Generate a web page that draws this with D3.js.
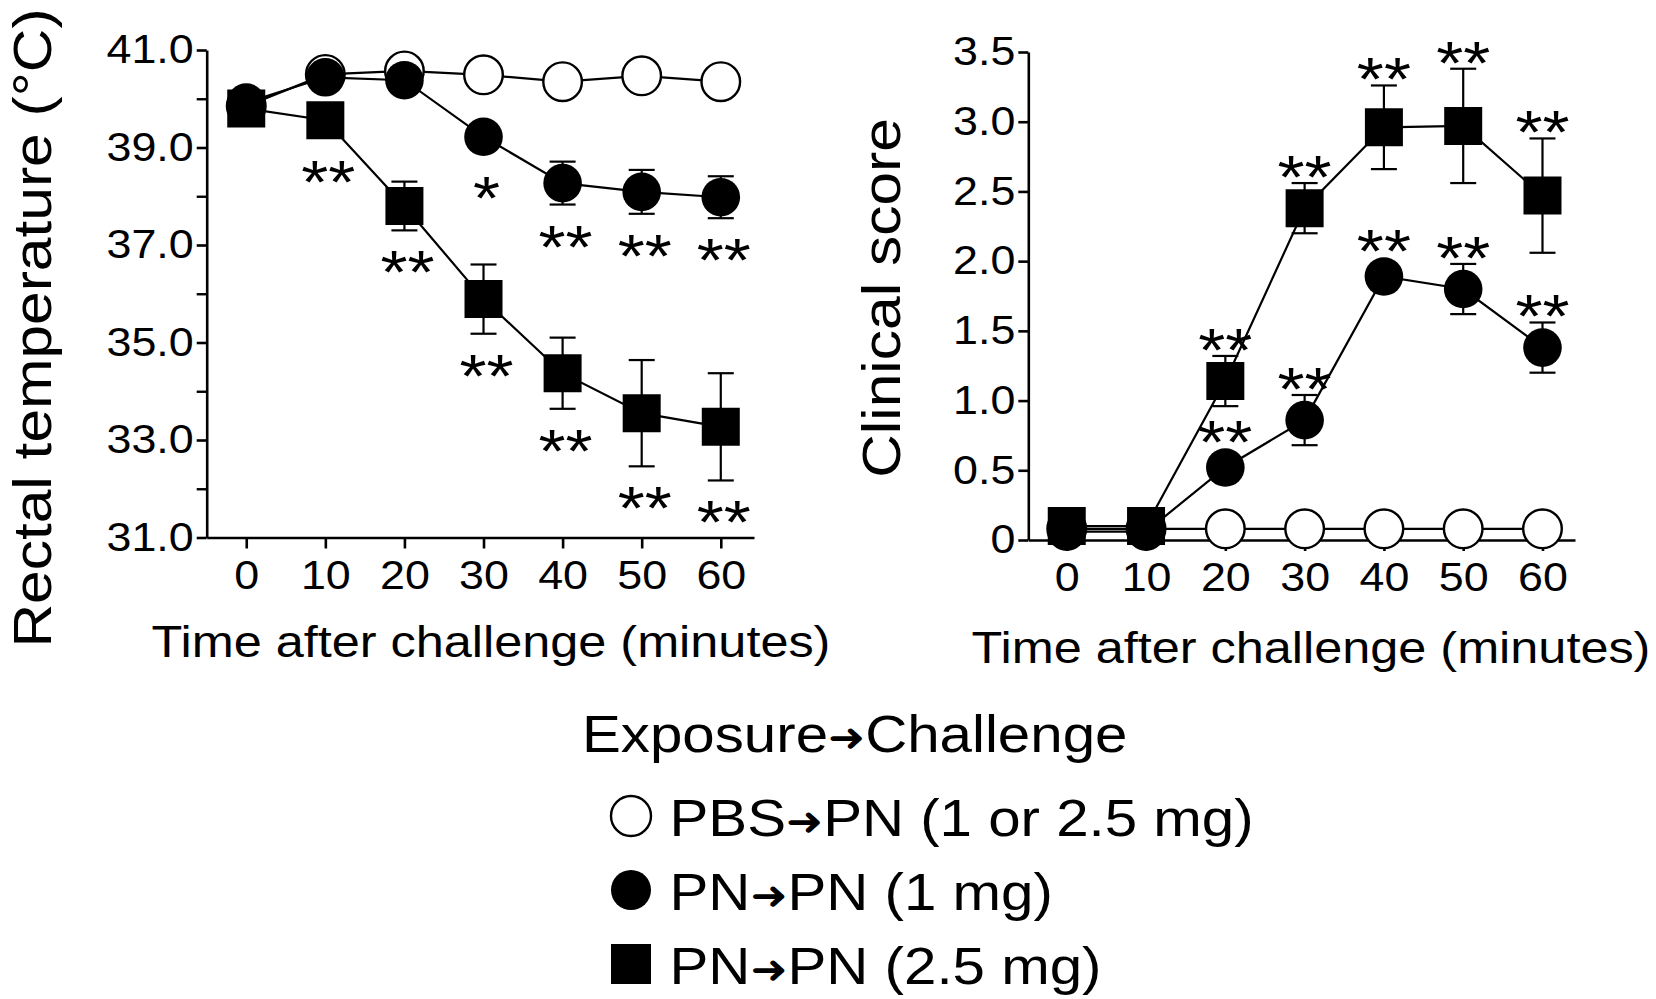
<!DOCTYPE html>
<html>
<head>
<meta charset="utf-8">
<script src="https://cdn.jsdelivr.net/npm/d3@7"></script>
<style>
  body { margin: 0; background: #fff; }
  svg { display: block; font-family: "Liberation Sans", Arial, sans-serif; }
</style>
</head>
<body>
<script>
// --- data ---
const times = [0, 10, 20, 30, 40, 50, 60];

// rectal temperature (°C), mean and SEM
const tempPBS = [39.85, 40.50, 40.57, 40.49, 40.35, 40.47, 40.35];
const tempPBSsem = [0.1, 0.1, 0.1, 0.1, 0.1, 0.1, 0.1];
const tempPN1 = [39.92, 40.44, 40.38, 39.22, 38.27, 38.09, 37.98];
const tempPN1sem = [0.15, 0.1, 0.1, 0.15, 0.44, 0.45, 0.43];
const tempPN25 = [39.80, 39.56, 37.80, 35.89, 34.37, 33.55, 33.27];
const tempPN25sem = [0.1, 0.15, 0.5, 0.71, 0.73, 1.09, 1.10];
const tempSigPN1 = ["", "", "", "*", "**", "**", "**"];
const tempSigPN25 = ["", "**", "**", "**", "**", "**", "**"];

// clinical score, mean and SEM
const scorePBS = [0.08, 0.08, 0.08, 0.08, 0.08, 0.08, 0.08];
const scorePBSsem = [0, 0, 0, 0, 0, 0, 0];
const scorePN1 = [0.06, 0.06, 0.52, 0.86, 1.89, 1.80, 1.38];
const scorePN1sem = [0, 0, 0.05, 0.18, 0.05, 0.18, 0.18];
const scorePN25 = [0.10, 0.10, 1.14, 2.38, 2.96, 2.97, 2.47];
const scorePN25sem = [0, 0, 0.18, 0.18, 0.30, 0.41, 0.41];
const scoreSigPN1 = ["", "", "**", "**", "**", "**", "**"];
const scoreSigPN25 = ["", "", "**", "**", "**", "**", "**"];

const tempTicks = [31, 33, 35, 37, 39, 41];
const tempMinor = [32, 34, 36, 38, 40];
const scoreTicks = [0, 0.5, 1, 1.5, 2, 2.5, 3, 3.5];

const xTitle = "Time after challenge (minutes)";
const legendTitle = "Exposure→Challenge";
const legendLabels = ["PBS→PN (1 or 2.5 mg)", "PN→PN (1 mg)", "PN→PN (2.5 mg)"];
const legendSymbols = ["open", "circle", "square"];

// --- drawing ---
const W = 1656, H = 999;
const STRETCH = 1.12; // figure text is a bit wider than Arial
const svg = d3.select("body").append("svg").attr("width", W).attr("height", H);

function stretch(sel, k) {
  sel.each(function () {
    const w = this.getComputedTextLength();
    d3.select(this).attr("textLength", w * k).attr("lengthAdjust", "spacingAndGlyphs");
  });
}

// text with the heavy arrow glyph of the figure
function arrowText(sel, str) {
  const parts = str.split("→");
  parts.forEach((p, i) => {
    if (i > 0) sel.append("tspan").attr("font-family", "DejaVu Sans").attr("font-weight", "bold")
      .attr("font-size", "0.76em").attr("dy", "-0.02em").text("➜");
    sel.append("tspan").attr("dy", i > 0 ? "0.02em" : null).text(p);
  });
}

const symCircle = d3.symbol(d3.symbolCircle, Math.PI * 19.3 * 19.3);
const symSquare = d3.symbol(d3.symbolSquare, 38 * 38);

function panel(o) {
  const g = svg.append("g");
  const x = d3.scaleLinear().domain(o.xDomain).range(o.xRange);
  const y = d3.scaleLinear().domain(o.yDomain).range(o.yRange);

  const xg = g.append("g").attr("transform", `translate(0,${o.yRange[0]})`)
    .call(d3.axisBottom(x).tickValues(times).tickSize(11).tickPadding(12).tickSizeOuter(0));
  const yg = g.append("g").attr("transform", `translate(${o.xRange[0]},0)`)
    .call(d3.axisLeft(y).tickValues(o.yTicks).tickFormat(o.yFormat).tickSize(10).tickPadding(3).tickSizeOuter(0));
  if (o.yMinor) {
    const mg = g.append("g").attr("transform", `translate(${o.xRange[0]},0)`)
      .call(d3.axisLeft(y).tickValues(o.yMinor).tickFormat("").tickSize(10));
    mg.select(".domain").remove();
    mg.selectAll("line").attr("stroke-width", 2.4);
  }
  [xg, yg].forEach(a => {
    a.attr("font-size", 40).attr("font-family", null);
    a.selectAll("path, line").attr("stroke", "#000").attr("stroke-width", 2.6);
    a.selectAll("text").attr("fill", "#000").call(stretch, STRETCH);
  });

  // connecting lines
  const line = d3.line().x((d, i) => x(times[i])).y(d => y(d));
  o.series.forEach(s => {
    g.append("path").datum(s.vals).attr("d", line)
      .attr("fill", "none").attr("stroke", "#000").attr("stroke-width", 2.2);
  });

  // error bars
  o.series.forEach(s => {
    const eb = g.append("g").attr("stroke", "#000").attr("stroke-width", 2.2);
    s.vals.forEach((v, i) => {
      const e = s.sem[i];
      if (!e) return;
      const cx = x(times[i]);
      eb.append("line").attr("x1", cx).attr("x2", cx).attr("y1", y(v - e)).attr("y2", y(v + e));
      [v - e, v + e].forEach(t => eb.append("line")
        .attr("x1", cx - 13).attr("x2", cx + 13).attr("y1", y(t)).attr("y2", y(t)));
    });
  });

  // markers
  o.series.forEach(s => {
    g.append("g").selectAll("path").data(s.vals).join("path")
      .attr("transform", (d, i) => `translate(${x(times[i])},${y(d)})`)
      .attr("d", s.symbol === "square" ? symSquare : symCircle)
      .attr("fill", s.symbol === "open" ? "#fff" : "#000")
      .attr("stroke", "#000").attr("stroke-width", s.symbol === "open" ? 2.4 : 0);
  });

  // significance stars
  o.series.forEach(s => {
    if (!s.sig) return;
    s.vals.forEach((v, i) => {
      const st = s.sig[i];
      if (!st) return;
      const half = 19.3;
      let cy;
      if (o.starBelow) cy = Math.max(y(v) + half, y(v - s.sem[i])) + 27;
      else cy = Math.min(y(v) - half, y(v + s.sem[i])) - 21;
      g.append("text").attr("x", x(times[i]) + o.starDx).attr("y", cy + 36)
        .attr("text-anchor", "middle").attr("font-size", 62).text(st)
        .call(stretch, STRETCH);
    });
  });

  // axis titles
  g.append("text").attr("x", o.xTitleX).attr("y", o.xTitleY).attr("text-anchor", "middle")
    .attr("font-size", 45).text(xTitle).call(stretch, STRETCH);
  g.append("text").attr("transform", `translate(${o.yTitleX},${o.yTitleY}) rotate(-90)`)
    .attr("text-anchor", "middle").attr("font-size", 54).text(o.yTitle).call(stretch, STRETCH);
}

panel({
  xDomain: [-5, 64.2], xRange: [206.7, 754],
  yDomain: [31, 41], yRange: [537.5, 50],
  yTicks: tempTicks, yMinor: tempMinor, yFormat: d3.format(".1f"),
  series: [
    { vals: tempPBS, sem: tempPBSsem, symbol: "open" },
    { vals: tempPN1, sem: tempPN1sem, symbol: "circle", sig: tempSigPN1 },
    { vals: tempPN25, sem: tempPN25sem, symbol: "square", sig: tempSigPN25 }
  ],
  starBelow: true, starDx: 3,
  xTitleX: 491, xTitleY: 657,
  yTitle: "Rectal temperature (°C)", yTitleX: 51, yTitleY: 328
});

panel({
  xDomain: [-4.85, 64.1], xRange: [1028.3, 1575],
  yDomain: [0, 3.5], yRange: [540, 52],
  yTicks: scoreTicks, yMinor: null, yFormat: d => d === 0 ? "0" : d.toFixed(1),
  series: [
    { vals: scorePBS, sem: scorePBSsem, symbol: "open" },
    { vals: scorePN1, sem: scorePN1sem, symbol: "circle", sig: scoreSigPN1 },
    { vals: scorePN25, sem: scorePN25sem, symbol: "square", sig: scoreSigPN25 }
  ],
  starBelow: false, starDx: 0,
  xTitleX: 1311, xTitleY: 663,
  yTitle: "Clinical score", yTitleX: 900, yTitleY: 298
});

// legend
const lg = svg.append("g").attr("font-size", 52);
lg.append("text").attr("x", 582).attr("y", 752).call(arrowText, legendTitle).call(stretch, STRETCH);
legendLabels.forEach((lab, i) => {
  const by = 836 + i * 74;
  const sym = legendSymbols[i];
  lg.append("path").attr("transform", `translate(631,${by - 20})`)
    .attr("d", sym === "square" ? d3.symbol(d3.symbolSquare, 40 * 40) : d3.symbol(d3.symbolCircle, Math.PI * 400))
    .attr("fill", sym === "open" ? "#fff" : "#000")
    .attr("stroke", "#000").attr("stroke-width", sym === "open" ? 2.4 : 0);
  lg.append("text").attr("x", 669.5).attr("y", by).call(arrowText, lab).call(stretch, STRETCH);
});
</script>
</body>
</html>
